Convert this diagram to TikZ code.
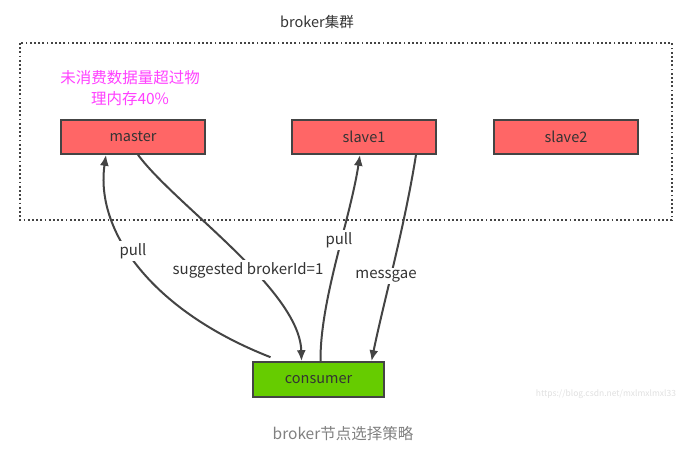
\documentclass[tikz,border=0pt]{standalone}
\usepackage{fontspec}
\setmainfont{Noto Sans CJK SC}
\usepackage{tikz}
\usetikzlibrary{arrows.meta}
\definecolor{brokerred}{HTML}{FF6666}
\definecolor{consgreen}{HTML}{66CC00}
\definecolor{notemag}{HTML}{FF40FF}
\definecolor{linegray}{HTML}{444444}
\tikzset{
	brokerbox/.style={draw=linegray, line width=1.6pt, fill=brokerred, minimum width=144pt, minimum height=34pt, inner sep=0pt, font=\fontsize{14.5}{16}\selectfont, text=black!80},
	flow/.style={draw=linegray, line width=2pt, -{Latex[length=11pt,width=9pt]}},
	flowlabel/.style={fill=white, inner sep=2pt, font=\fontsize{15}{17}\selectfont, text=black!80}
}

\begin{document}
\begin{tikzpicture}[x=1pt, y=-1pt]
			%%%%% START %%%%%
			\useasboundingbox (0, 0) rectangle (689, 449);
			
			\node[font=\fontsize{14.5}{16}\selectfont, text=black!80] (title) at (317, 22) {broker集群};
			\draw[linegray, line width=1.8pt, dash pattern=on 1.8pt off 2.4pt] (20, 43) rectangle (672, 220);
			
			\node[align=center, text=notemag, font=\fontsize{15.5}{21}\selectfont] (note) at (130, 88) {未消费数据量超过物\\理内存40\%};
			
			\node[brokerbox] (master) at (133, 137) {master};
			\node[brokerbox] (slave1) at (364, 137) {slave1};
			\node[brokerbox] (slave2) at (566, 137) {slave2};
			\node[brokerbox, fill=consgreen, minimum width=131pt, minimum height=35pt] (consumer) at (318.5, 379.5) {consumer};
			
			\draw[flow] ([xshift=-48pt, yshift=4pt]consumer.north) .. controls (150, 310) and (95, 230) .. ([xshift=-27pt]master.south);
			\draw[flow] ([xshift=5pt]master.south) .. controls (175, 205) and (300, 290) .. ([xshift=-17pt]consumer.north);
			\draw[flow] ([xshift=2pt]consumer.north) .. controls (320, 300) and (350, 220) .. ([xshift=-4pt]slave1.south);
			\draw[flow] ([xshift=52pt]slave1.south) .. controls (404, 230) and (384, 300) .. ([xshift=53pt]consumer.north);
			
			\node[flowlabel] (pullm) at (133, 251) {pull};
			\node[flowlabel] (suggest) at (248, 270) {suggested brokerId=1};
			\node[flowlabel] (pulls) at (339, 240) {pull};
			\node[flowlabel] (msg) at (386, 276) {messgae};
			
			\node[text=black!12, font=\fontsize{8.5}{9}\selectfont] (mark) at (606, 394) {https://blog.csdn.net/mxlmxlmxl33};
			\node[text=black!50, font=\fontsize{15.5}{17}\selectfont] (caption) at (343, 434) {broker节点选择策略};
			%%%%% END %%%%%
		\end{tikzpicture}
\end{document}
